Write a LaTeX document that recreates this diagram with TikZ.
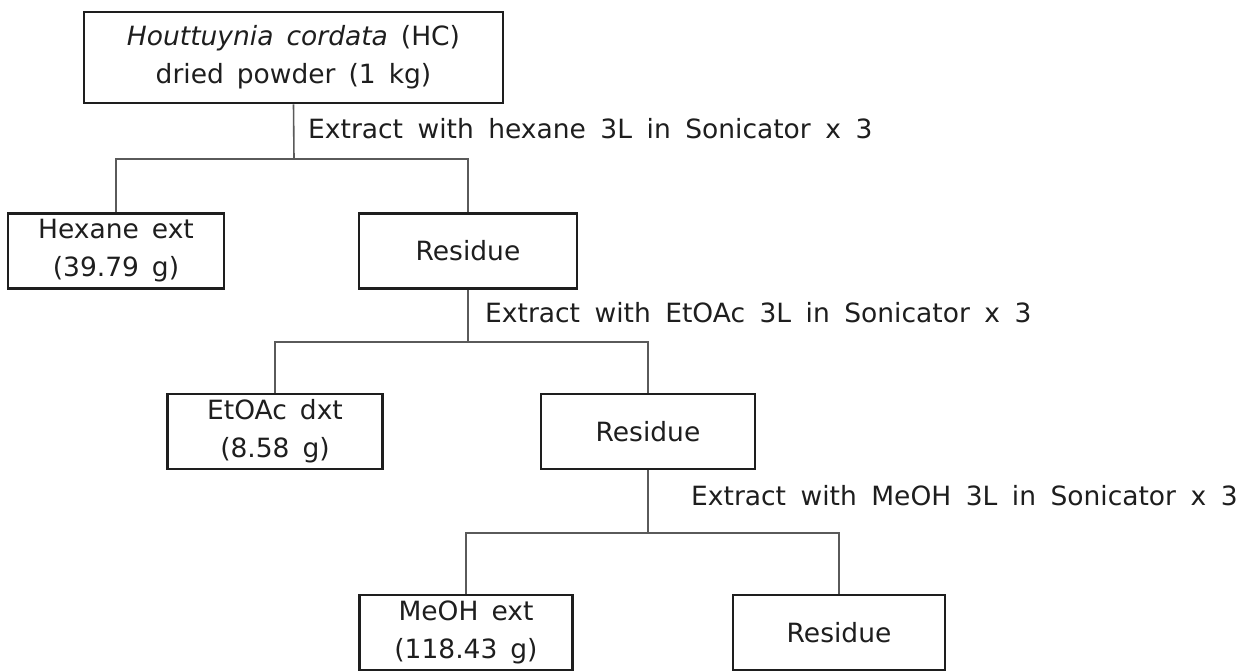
\documentclass[tikz,border=0pt]{standalone}
\usepackage{fontspec}
\setmainfont{DejaVu Sans}
\usepackage{xcolor}
\usetikzlibrary{positioning}

\definecolor{inkdark}{HTML}{1E1E1E}
\definecolor{linegray}{HTML}{5A5A5A}
\newcommand{\boxfont}{\fontsize{26.5}{38}\selectfont\spaceskip 13pt\relax}
\newcommand{\stepfont}{\fontsize{26.5}{38}\selectfont\spaceskip 14.5pt\relax}

\begin{document}
\begin{tikzpicture}[x=1pt, y=-1pt,
    box/.style={rectangle, draw=inkdark, line width=2.6pt, align=center, inner sep=0pt,
        font=\boxfont, text=inkdark, minimum height=75pt},
    conn/.style={draw=linegray, line width=1.6pt},
    extr/.style={anchor=base west, inner sep=0pt, font=\stepfont, text=inkdark}
]
\useasboundingbox (0,0) rectangle (1253,670);

\node[box, minimum width=419pt, minimum height=91pt] (hc) at (293.5,57.5) {\textit{Houttuynia cordata} (HC)\\dried powder (1 kg)};
\node[box, minimum width=216pt] (hex) at (116,251) {Hexane ext\\(39.79 g)};
\node[box, minimum width=218pt] (res1) at (468,251) {Residue};
\node[box, minimum width=215pt] (etoac) at (275,431.5) {EtOAc dxt\\(8.58 g)};
\node[box, minimum width=214pt] (res2) at (648,431.5) {Residue};
\node[box, minimum width=213pt] (meoh) at (466,632.5) {MeOH ext\\(118.43 g)};
\node[box, minimum width=212pt] (res3) at (839,632.5) {Residue};

\coordinate (j1) at (294,159);
\coordinate (j2) at (468,342);
\coordinate (j3) at (648,533);

\draw[conn] (hc.south) -- (j1);
\draw[conn] (hex.north) |- (j1) -| (res1.north);
\draw[conn] (res1.south) -- (j2);
\draw[conn] (etoac.north) |- (j2) -| (res2.north);
\draw[conn] (res2.south) -- (j3);
\draw[conn] (meoh.north) |- (j3) -| (res3.north);

\node[extr] (l1) at (308,138) {Extract with hexane 3L in Sonicator x 3};
\node[extr] (l2) at (485,322) {Extract with EtOAc 3L in Sonicator x 3};
\node[extr] (l3) at (691,505) {Extract with MeOH 3L in Sonicator x 3};
\end{tikzpicture}
\end{document}
